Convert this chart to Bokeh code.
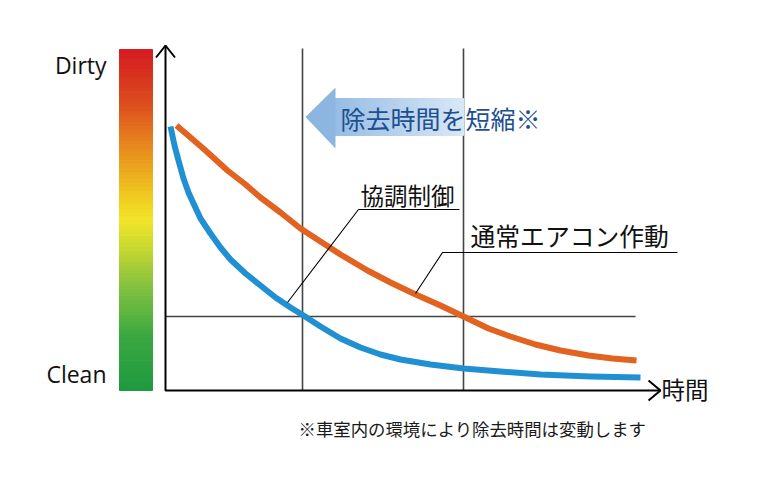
from bokeh.plotting import figure
from bokeh.models import Range1d
from bokeh.core.properties import value
from bokeh.embed import file_html
from bokeh.resources import INLINE

# ---- data (time units, dirtiness level units) ----
blue_t = [0.5, 0.9, 1.3, 1.8, 2.3, 2.8, 3.5, 4.5, 5.5, 6.5, 8.0, 9.5, 11.0, 12.5, 13.8,
          15.5, 17.5, 19.5, 21.5, 23.5, 26.5, 29.8, 33.5, 37.5, 42.5, 47.5]
blue_level = [26.4, 24.5, 23.0, 21.2, 19.8, 18.7, 17.2, 15.7, 14.3, 13.1, 11.7, 10.5, 9.3, 8.3, 7.5,
              6.4, 5.2, 4.3, 3.6, 3.1, 2.6, 2.2, 1.9, 1.6, 1.4, 1.3]
orange_t = [1.1, 2.5, 4.0, 6.2, 8.0, 9.5, 11.5, 13.5, 15.5, 17.5, 20.2, 22.5, 24.8, 27.5,
            29.8, 32.3, 34.5, 37.0, 39.5, 42.3, 44.7, 47.1]
orange_level = [26.5, 25.3, 24.0, 22.0, 20.6, 19.3, 17.8, 16.2, 14.9, 13.6, 12.0, 10.8, 9.7, 8.5,
                7.4, 6.2, 5.4, 4.6, 4.0, 3.5, 3.2, 3.0]
ref_times = [13.7, 29.8]
ref_level = 7.4
axis_x_end = 49.5
axis_y_end = 34.5
grid_top = 34.2
ref_x_end = 47.0

label_coop = "協調制御"
label_normal = "通常エアコン作動"
label_title = "除去時間を短縮※"
label_time = "時間"
label_dirty = "Dirty"
label_clean = "Clean"
label_note = "※車室内の環境により除去時間は変動します"

CJK = "Noto Sans CJK JP"

p = figure(width=770, height=479, output_backend="svg", toolbar_location=None,
           x_range=Range1d(-16.5, 60.5), y_range=Range1d(-8.9, 39.0),
           min_border=0, min_border_left=0, min_border_right=0,
           min_border_top=0, min_border_bottom=0)
p.axis.visible = False
p.grid.visible = False
p.outline_line_color = None
p.background_fill_color = "white"
p.border_fill_color = "white"

# ---- colour bar (gradient Dirty -> Clean) ----
stops = [(0.0, (0x1f, 0x9a, 0x40)), (0.16, (0x3a, 0xa8, 0x40)), (0.30, (0x80, 0xc0, 0x40)),
         (0.42, (0xc8, 0xd8, 0x30)), (0.50, (0xf2, 0xe4, 0x2a)), (0.56, (0xf0, 0xd0, 0x20)),
         (0.70, (0xe8, 0x90, 0x1e)), (0.85, (0xdc, 0x4a, 0x1e)), (1.0, (0xd4, 0x1c, 0x20))]

def grad(f):
    for i in range(len(stops) - 1):
        a, ca = stops[i]
        b, cb = stops[i + 1]
        if a <= f <= b:
            u = (f - a) / (b - a)
            c = [int(round(ca[k] + (cb[k] - ca[k]) * u)) for k in range(3)]
            return "#%02x%02x%02x" % tuple(c)
    return "#d41c20"

n = 90
bar_bottom, bar_top = 0.0, 34.1
h = (bar_top - bar_bottom) / n
bottoms = [bar_bottom + i * h for i in range(n)]
tops = [b + h for b in bottoms]
cols = [grad((i + 0.5) / n) for i in range(n)]
p.quad(left=-4.6, right=-1.3, bottom=bottoms, top=tops, fill_color=cols, line_color=cols, line_width=1)

# ---- reference lines ----
for t in ref_times:
    p.line([t, t], [0, grid_top], line_color="#444444", line_width=1.6)
p.line([0, ref_x_end], [ref_level, ref_level], line_color="#444444", line_width=1.6)

# ---- axes with open arrows ----
p.line([0, 0, axis_x_end], [axis_y_end, 0, 0], line_color="black", line_width=2)
p.line([-0.95, 0, 0.95], [axis_y_end - 1.2, axis_y_end, axis_y_end - 1.2], line_color="black", line_width=2)
p.line([axis_x_end - 1.2, axis_x_end, axis_x_end - 1.2], [1.0, 0, -1.0], line_color="black", line_width=2)

# ---- shortening arrow (gradient) ----
shaft_l, shaft_r = 16.9, 29.8
shaft_b, shaft_t = 25.5, 29.2
m = 40
w = (shaft_r - shaft_l) / m
sl = [shaft_l + i * w for i in range(m)]
sr = [x + w for x in sl]
def blend(c1, c2, u):
    return "#%02x%02x%02x" % tuple(int(round(c1[k] + (cb_k - c1[k]) * u)) for k, cb_k in enumerate(c2))
scol = [blend((0x96, 0xbd, 0xe4), (0xd8, 0xe7, 0xf5), i / (m - 1)) for i in range(m)]
p.quad(left=sl, right=sr, bottom=shaft_b, top=shaft_t, fill_color=scol, line_color=scol, line_width=1)
p.patch([14.0, 17.0, 17.0], [27.35, 30.3, 24.2], fill_color="#8cb6e0", line_color=None)

# ---- curves ----
p.line(orange_t, orange_level, line_color="#e2621f", line_width=6, line_cap="butt", line_join="round")
p.line(blue_t, blue_level, line_color="#2190d3", line_width=6, line_cap="butt", line_join="round")

# ---- callouts ----
p.line([12.2, 19.3, 29.4], [8.8, 18.1, 18.1], line_color="black", line_width=1.1)
p.line([25.0, 27.7, 51.2], [9.7, 13.8, 13.8], line_color="black", line_width=1.1)

p.text(x=[19.5], y=[19.6], text=[label_coop], text_font=value(CJK), text_font_size="23.5px",
       text_baseline="middle", text_align="left", text_color="#111111")
p.text(x=[30.5], y=[15.6], text=[label_normal], text_font=value(CJK), text_font_size="24.8px",
       text_baseline="middle", text_align="left", text_color="#111111")
p.text(x=[17.5], y=[27.3], text=[label_title], text_font=value(CJK), text_font_size="25px",
       text_baseline="middle", text_align="left", text_color="#1d4f91")
p.text(x=[49.6], y=[0.2], text=[label_time], text_font=value(CJK), text_font_size="23.5px",
       text_baseline="middle", text_align="left", text_color="#111111")
p.text(x=[-5.9, -5.9], y=[32.6, 1.7], text=[label_dirty, label_clean], text_font=value("Open Sans"),
       text_font_size="23px", text_baseline="middle", text_align="right", text_color="#111111")
p.text(x=[13.3], y=[-3.8], text=[label_note], text_font=value(CJK), text_font_size="17.4px",
       text_baseline="middle", text_align="left", text_color="#1a1a1a")

open("out.html", "w").write(file_html(p, INLINE))
